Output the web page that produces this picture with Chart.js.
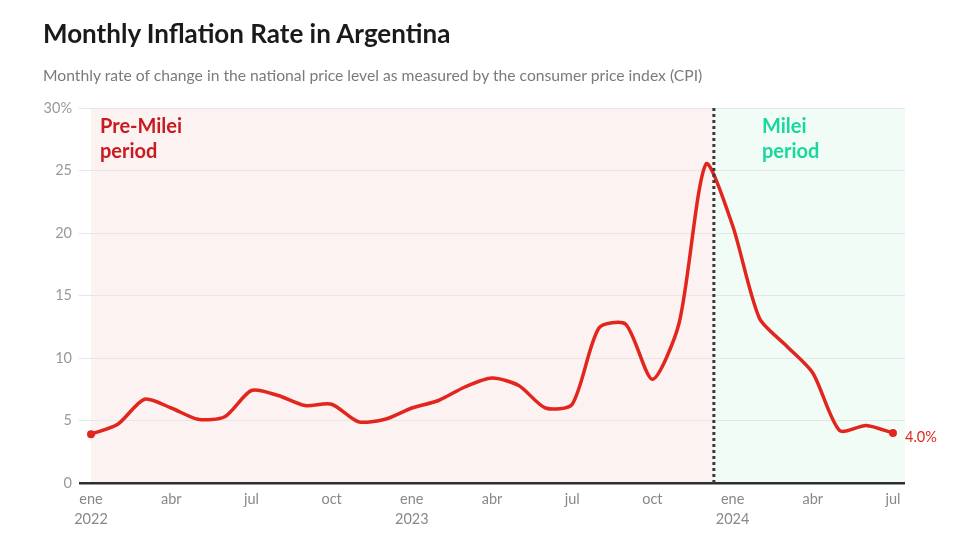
<!DOCTYPE html>
<html>
<head>
<meta charset="utf-8">
<script src="https://cdn.jsdelivr.net/npm/chart.js"></script>
<style>
  body { margin: 0; background: #fff; }
  #wrap { position: relative; width: 963px; height: 558px; }
  #title { position: absolute; left: 43px; top: 17px; font: bold 26px Lato, sans-serif; color: #1a1a1a; margin: 0; }
  #subtitle { position: absolute; left: 43px; top: 66px; font: 15.7px Lato, sans-serif; color: #7a7a7a; margin: 0; }
  canvas { position: absolute; left: 0; top: 0; }
</style>
</head>
<body>
<div id="wrap">
  <canvas id="chart" width="963" height="558"></canvas>
  <h1 id="title">Monthly Inflation Rate in Argentina</h1>
  <p id="subtitle">Monthly rate of change in the national price level as measured by the consumer price index (CPI)</p>
</div>
<script>
// Monthly CPI change, ene 2022 - jul 2024
const months = [
  'ene 2022', 'feb 2022', 'mar 2022', 'abr 2022', 'may 2022', 'jun 2022',
  'jul 2022', 'ago 2022', 'sep 2022', 'oct 2022', 'nov 2022', 'dic 2022',
  'ene 2023', 'feb 2023', 'mar 2023', 'abr 2023', 'may 2023', 'jun 2023',
  'jul 2023', 'ago 2023', 'sep 2023', 'oct 2023', 'nov 2023', 'dic 2023',
  'ene 2024', 'feb 2024', 'mar 2024', 'abr 2024', 'may 2024', 'jun 2024',
  'jul 2024'
];
const inflation = [
  3.9, 4.7, 6.7, 6.0, 5.1, 5.3, 7.4, 7.0, 6.2, 6.3, 4.9, 5.1,
  6.0, 6.6, 7.7, 8.4, 7.8, 6.0, 6.3, 12.4, 12.7, 8.3, 12.8, 25.5,
  20.6, 13.2, 11.0, 8.8, 4.2, 4.6, 4.0
];
// tick every 3 months
const tickIndexes = [0, 3, 6, 9, 12, 15, 18, 21, 24, 27, 30];
const tickLabels = [
  ['ene', '2022'], 'abr', 'jul', 'oct', ['ene', '2023'], 'abr', 'jul', 'oct',
  ['ene', '2024'], 'abr', 'jul'
];
const yTicks = [0, 5, 10, 15, 20, 25, 30];
// Milei took office 10 Dec 2023 (month index 23 + 9/31)
const mileiStart = 23.3;

const red = '#e2251d';

const periodsPlugin = {
  id: 'periods',
  beforeDraw(chart) {
    const { ctx, chartArea, scales } = chart;
    const x0 = scales.x.getPixelForValue(0);
    const xm = scales.x.getPixelForValue(mileiStart);
    ctx.save();
    ctx.fillStyle = '#fcf2f1';
    ctx.fillRect(x0, chartArea.top, xm - x0, chartArea.bottom - chartArea.top);
    ctx.fillStyle = '#f1fcf7';
    ctx.fillRect(xm, chartArea.top, chartArea.right - xm, chartArea.bottom - chartArea.top);
    ctx.restore();
  },
  afterDatasetsDraw(chart) {
    const { ctx, chartArea, scales } = chart;
    const xm = scales.x.getPixelForValue(mileiStart);
    ctx.save();
    // dotted divider
    ctx.strokeStyle = '#3a3a3a';
    ctx.lineWidth = 3;
    ctx.setLineDash([3, 3]);
    ctx.beginPath();
    ctx.moveTo(xm, chartArea.top);
    ctx.lineTo(xm, chartArea.bottom);
    ctx.stroke();
    ctx.setLineDash([]);

    // period labels
    ctx.font = 'bold 20px Lato, sans-serif';
    ctx.textBaseline = 'alphabetic';
    ctx.fillStyle = '#c91b1f';
    ctx.fillText('Pre-Milei', 100, 133);
    ctx.fillText('period', 100, 158);
    ctx.fillStyle = '#19d89e';
    ctx.fillText('Milei', 762, 133);
    ctx.fillText('period', 762, 158);

    // last value label
    const last = inflation.length - 1;
    const px = scales.x.getPixelForValue(last);
    const py = scales.y.getPixelForValue(inflation[last]);
    ctx.font = '14.5px Lato, sans-serif';
    ctx.fillStyle = red;
    ctx.textBaseline = 'middle';
    ctx.fillText(inflation[last].toFixed(1) + '%', px + 12, py + 4);
    ctx.restore();
  }
};

new Chart(document.getElementById('chart'), {
  type: 'line',
  data: {
    datasets: [{
      label: 'Inflation',
      data: inflation.map((v, i) => ({ x: i, y: v })),
      borderColor: red,
      backgroundColor: red,
      borderWidth: 3.5,
      tension: 0.25,
      pointRadius: ctx => (ctx.dataIndex === 0 || ctx.dataIndex === inflation.length - 1) ? 4 : 0,
      pointBorderWidth: 0
    }]
  },
  options: {
    responsive: false,
    animation: false,
    layout: { padding: { top: 108, right: 58, left: 0, bottom: 0 } },
    plugins: { legend: { display: false }, tooltip: { enabled: false } },
    scales: {
      x: {
        type: 'linear',
        min: -0.45,
        max: 30.45,
        afterBuildTicks: scale => { scale.ticks = tickIndexes.map(v => ({ value: v })); },
        afterFit: scale => { scale.height = 75; },
        grid: { display: false, drawTicks: false },
        border: { display: false },
        ticks: {
          padding: 6,
          color: '#888',
          font: { family: 'Lato, sans-serif', size: 14.5, lineHeight: 1.4 },
          maxRotation: 0,
          autoSkip: false,
          callback: v => tickLabels[tickIndexes.indexOf(v)]
        }
      },
      y: {
        min: 0,
        max: 30,
        afterBuildTicks: scale => { scale.ticks = yTicks.map(v => ({ value: v })); },
        afterFit: scale => { scale.width = 79; },
        grid: {
          drawTicks: false,
          color: ctx => ctx.tick.value === 0 ? '#2e2e2e' : '#e6e6e6',
          lineWidth: ctx => ctx.tick.value === 0 ? 2.5 : 1
        },
        border: { display: false },
        ticks: {
          padding: 7,
          color: '#999',
          font: { family: 'Lato, sans-serif', size: 14.5 },
          callback: v => v === 30 ? '30%' : v
        }
      }
    }
  },
  plugins: [periodsPlugin]
});
</script>
</body>
</html>
